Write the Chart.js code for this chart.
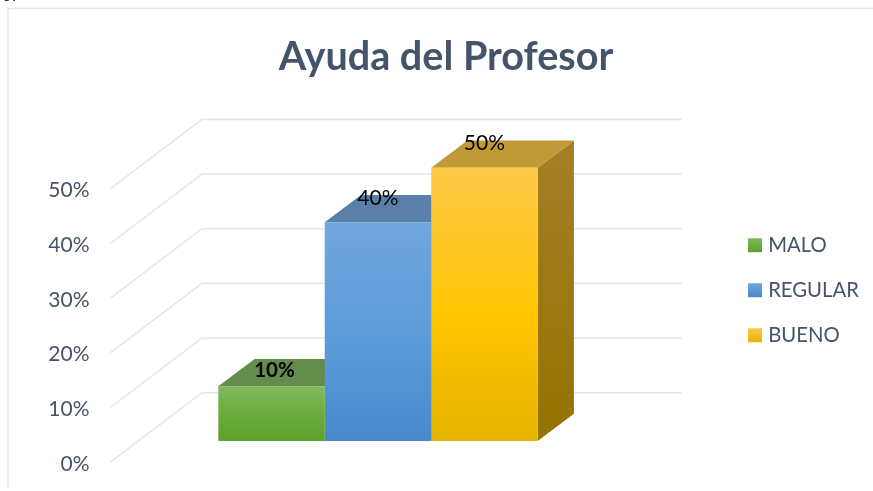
<!DOCTYPE html>
<html>
<head>
<meta charset="utf-8">
<script src="https://cdn.jsdelivr.net/npm/chart.js@4/dist/chart.umd.min.js"></script>
<style>
html, body { margin: 0; padding: 0; background: #fff; overflow: hidden; }
#wrap { position: relative; width: 873px; height: 491px; }
#cut { position: absolute; left: 2px; top: -17px; font: italic 20px "Liberation Serif"; color: #000; }
</style>
</head>
<body>
<div id="wrap">
<canvas id="myChart" width="873" height="491"></canvas>
<div id="cut">67</div>
</div>
<script>
var categories = ['Ayuda del Profesor'];
var seriesNames = ['MALO', 'REGULAR', 'BUENO'];
var seriesValues = [10, 40, 50];
var tickValues = [0, 10, 20, 30, 40, 50];
var titleText = 'Ayuda del Profesor';

// colores de cada serie: cara frontal (arriba, medio, abajo), cara superior, cara lateral
var frontColors = [
    ['#80B95F', '#69AB38', '#5FA130'],
    ['#72A6DE', '#5B9BD9', '#4789CB'],
    ['#FFC94A', '#FFC600', '#E5B400']
];
var topColors = ['#638C4D', '#5A7FA8', '#C09A37'];
var sideColors = [['#5A8A3A', '#4A7A28'], ['#4A7099', '#38608A'], ['#A67F28', '#937300']];
var textColor = '#44546A';
var gridColor = '#E4E7EE';

// medidas de la perspectiva
var pxPerPercent = 5.466;
var barDepthX = 36.3, barDepthY = 27.3;
var wallDepthX = 91.5, wallDepthY = 69.3;
var gridRight = 681.7;
var floorGap = 21; // el piso de las barras queda por encima de la etiqueta 0%
var areaTop = 119.3, areaBottom = 462;
var yMax = (areaBottom - areaTop) / pxPerPercent;
var yShift = floorGap / pxPerPercent;

function fillFace(ctx, pts, fill) {
    ctx.fillStyle = fill;
    ctx.beginPath();
    ctx.moveTo(pts[0][0], pts[0][1]);
    for (var i = 1; i < pts.length; i++) ctx.lineTo(pts[i][0], pts[i][1]);
    ctx.closePath();
    ctx.fill();
}

function frontFill(ctx) {
    var chart = ctx.chart;
    var i = ctx.datasetIndex;
    if (!chart.chartArea || ctx.raw === undefined) return frontColors[i][1];
    var yScale = chart.scales.y1;
    var g = chart.ctx.createLinearGradient(0, yScale.getPixelForValue(ctx.raw), 0, yScale.getPixelForValue(0));
    g.addColorStop(0, frontColors[i][0]);
    g.addColorStop(0.55, frontColors[i][1]);
    g.addColorStop(1, frontColors[i][2]);
    return g;
}

var scene3d = {
    id: 'scene3d',
    afterLayout: function (chart) {
        // el titulo se centra en x=446 y la leyenda va fuera del area, a la derecha
        chart.titleBlock.left = 0;
        chart.titleBlock.right = 892;
        var legend = chart.legend;
        var pad = legend.options.labels.padding;
        legend.left = 752 - pad;
        legend.right = legend.left + 160;
        legend.top = 235 - pad;
        legend.bottom = legend.top + 240;
    },
    beforeDraw: function (chart) {
        var ctx = chart.ctx;
        chart.legend.legendItems.forEach(function (item, i) {
            var y0 = 238 + i * 45;
            var g = ctx.createLinearGradient(0, y0, 0, y0 + 14);
            g.addColorStop(0, frontColors[i][0]);
            g.addColorStop(1, frontColors[i][2]);
            item.fillStyle = g;
            item.strokeStyle = g;
            item.lineWidth = 8; // el trazo completa el cuadro de 14px
        });
        ctx.save();
        ctx.strokeStyle = '#E2E6EC';
        ctx.lineWidth = 1.5;
        ctx.beginPath();
        ctx.moveTo(8, 489);
        ctx.lineTo(8, 8.5);
        ctx.lineTo(873, 8.5);
        ctx.stroke();
        ctx.restore();
    },
    beforeDatasetsDraw: function (chart) {
        var ctx = chart.ctx;
        var area = chart.chartArea;
        var yScale = chart.scales.y;
        ctx.save();
        // paredes y lineas de division
        ctx.strokeStyle = gridColor;
        ctx.lineWidth = 1.6;
        tickValues.forEach(function (v) {
            var y = yScale.getPixelForValue(v);
            ctx.beginPath();
            ctx.moveTo(area.left, y);
            ctx.lineTo(area.left + wallDepthX, y - wallDepthY);
            ctx.lineTo(gridRight, y - wallDepthY);
            ctx.stroke();
        });
        // caras superior y lateral de cada barra
        chart.data.datasets.forEach(function (ds, i) {
            var bar = chart.getDatasetMeta(i).data[0];
            var l = bar.x - bar.width / 2, r = bar.x + bar.width / 2;
            var dx = barDepthX, dy = barDepthY;
            var g = ctx.createLinearGradient(0, bar.y - dy, 0, bar.base);
            g.addColorStop(0, sideColors[i][0]);
            g.addColorStop(1, sideColors[i][1]);
            fillFace(ctx, [[r, bar.y], [r + dx, bar.y - dy], [r + dx, bar.base - dy], [r, bar.base]], g);
            fillFace(ctx, [[l, bar.y], [l + dx, bar.y - dy], [r + dx, bar.y - dy], [r, bar.y]], topColors[i]);
        });
        ctx.restore();
    },
    afterDatasetsDraw: function (chart) {
        var ctx = chart.ctx;
        ctx.save();
        ctx.fillStyle = '#000';
        ctx.textAlign = 'center';
        ctx.textBaseline = 'middle';
        chart.data.datasets.forEach(function (ds, i) {
            var bar = chart.getDatasetMeta(i).data[0];
            var low = ds.data[0] < 20;
            ctx.font = low ? 'bold 20.5px Lato' : '21px Lato';
            ctx.fillText(ds.data[0] + '%', bar.x + (low ? 3 : 0), bar.y - (low ? 16 : 24));
        });
        ctx.restore();
    }
};

var myChart = new Chart(document.getElementById('myChart').getContext('2d'), {
    type: 'bar',
    data: {
        labels: categories,
        datasets: seriesNames.map(function (name, i) {
            return {
                label: name,
                data: [seriesValues[i]],
                yAxisID: 'y1',
                backgroundColor: frontFill,
                borderWidth: 0,
                barPercentage: 1,
                categoryPercentage: 0.597
            };
        })
    },
    options: {
        responsive: false,
        animation: false,
        layout: { padding: { left: 19, right: 227.6, top: 0, bottom: 29 } },
        plugins: {
            title: {
                display: true,
                text: titleText,
                color: textColor,
                font: { family: 'Lato', size: 39.6, weight: 'bold', lineHeight: 1.2 },
                padding: { top: 33.25, bottom: 38.55 }
            },
            legend: {
                position: 'chartArea',
                align: 'start',
                labels: {
                    color: textColor,
                    font: { family: 'Lato', size: 20.3 },
                    boxWidth: 6,
                    boxHeight: 6,
                    padding: 24.7
                }
            },
            tooltip: { enabled: false }
        },
        scales: {
            x: { display: false },
            y: {
                min: 0,
                max: yMax,
                afterBuildTicks: function (axis) {
                    axis.ticks = tickValues.map(function (v) { return { value: v }; });
                },
                afterFit: function (axis) { axis.width = 91.5; },
                // tickLength + padding separan la etiqueta; mucho padding recorta el area por abajo
                grid: { display: false, drawTicks: true, tickLength: 11 },
                border: { display: false },
                ticks: {
                    color: textColor,
                    font: { family: 'Lato', size: 21 },
                    padding: 10,
                    labelOffset: 2,
                    callback: function (v) { return v + '%'; }
                }
            },
            y1: {
                display: false,
                min: -yShift,
                max: yMax - yShift
            }
        }
    },
    plugins: [scene3d]
});
</script>
</body>
</html>
